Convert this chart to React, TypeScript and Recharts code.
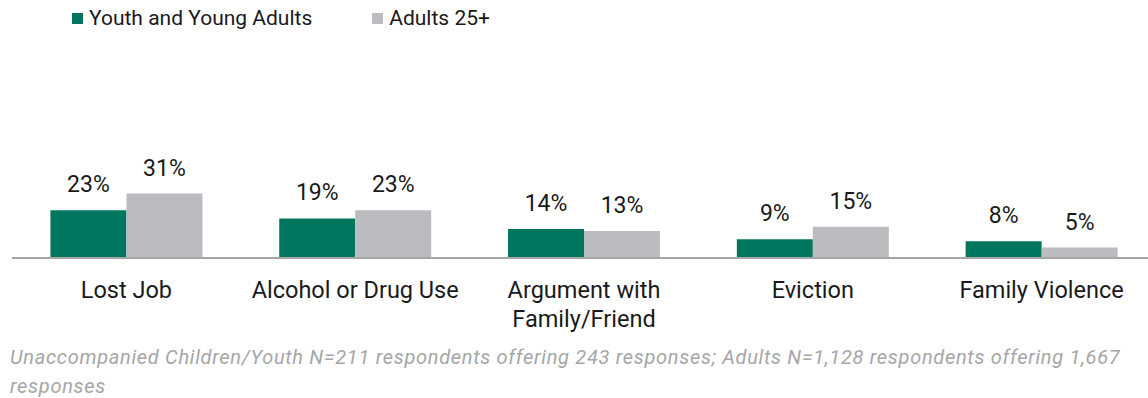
import { Bar, BarChart, LabelList, Legend, XAxis, YAxis } from "recharts";

const categories = [
  "Lost Job",
  "Alcohol or Drug Use",
  "Argument with Family/Friend",
  "Eviction",
  "Family Violence",
];
const youth = [23, 19, 14, 9, 8];
const adults = [31, 23, 13, 15, 5];

const GREEN = "#00765f";
const GREY = "#bbbcc0";

const data = categories.map((name, i) => ({ name, youth: youth[i], adults: adults[i] }));

const legendItems = [
  { label: "Youth and Young Adults", color: GREEN },
  { label: "Adults 25+", color: GREY },
];

function LegendContent() {
  return (
    <div style={{ display: "flex", gap: 60, fontSize: 21, color: "#1a1a1a" }}>
      {legendItems.map((it) => (
        <div key={it.label} style={{ display: "flex", alignItems: "center", gap: 6 }}>
          <span style={{ width: 11, height: 11, background: it.color, display: "inline-block" }} />
          <span>{it.label}</span>
        </div>
      ))}
    </div>
  );
}

// rough word wrap, ~0.5em per char
function wrap(label: string, fontSize: number, maxWidth: number) {
  const lines: string[] = [];
  let cur = "";
  for (const w of label.split(" ")) {
    const next = cur ? cur + " " + w : w;
    if (cur && next.length * fontSize * 0.5 > maxWidth) {
      lines.push(cur);
      cur = w;
    } else {
      cur = next;
    }
  }
  if (cur) lines.push(cur);
  return lines;
}

function CategoryTick(props: any) {
  const { x, y, payload } = props;
  const fs = 23.5;
  const lines = wrap(String(payload.value), fs, 230);
  return (
    <text x={x} y={y} textAnchor="middle" fontSize={fs} fill="#1a1a1a" fontFamily="Roboto">
      {lines.map((l, i) => (
        <tspan key={i} x={x} dy={i === 0 ? "0.71em" : 29}>
          {l}
        </tspan>
      ))}
    </text>
  );
}

const pct = (v: any) => `${v}%`;

export default function App() {
  return (
    <div style={{ position: "absolute", left: 0, top: 0, width: 1148, height: 398, overflow: "hidden", fontFamily: "Roboto, sans-serif", background: "#fff" }}>
      <BarChart
        width={1160}
        height={340}
        data={data}
        margin={{ top: 50, right: 4, left: 12, bottom: 0 }}
        barCategoryGap="16.8%"
        barGap={0}
      >
        <Legend
          layout="horizontal"
          verticalAlign="middle"
          align="center"
          wrapperStyle={{ top: 6, left: 72, width: "auto" }}
          content={<LegendContent />}
        />
        <YAxis hide domain={[0, 100]} />
        <XAxis
          dataKey="name"
          height={82}
          axisLine={{ stroke: "#a6a6a6", strokeWidth: 2 }}
          tickLine={false}
          tickSize={0}
          tickMargin={23}
          interval={0}
          tick={<CategoryTick />}
        />
        <Bar dataKey="youth" fill={GREEN} isAnimationActive={false}>
          <LabelList dataKey="youth" position="top" offset={18} formatter={pct} fill="#1a1a1a" fontSize={23} />
        </Bar>
        <Bar dataKey="adults" fill={GREY} isAnimationActive={false}>
          <LabelList dataKey="adults" position="top" offset={18} formatter={pct} fill="#1a1a1a" fontSize={23} />
        </Bar>
      </BarChart>
      <div
        style={{
          position: "absolute",
          left: 10,
          top: 343,
          width: 1130,
          fontSize: 20,
          letterSpacing: 0.7,
          lineHeight: "29px",
          fontStyle: "italic",
          color: "#a6a6a6",
        }}
      >
        Unaccompanied Children/Youth N=211 respondents offering 243 responses; Adults N=1,128 respondents offering 1,667 responses
      </div>
    </div>
  );
}
